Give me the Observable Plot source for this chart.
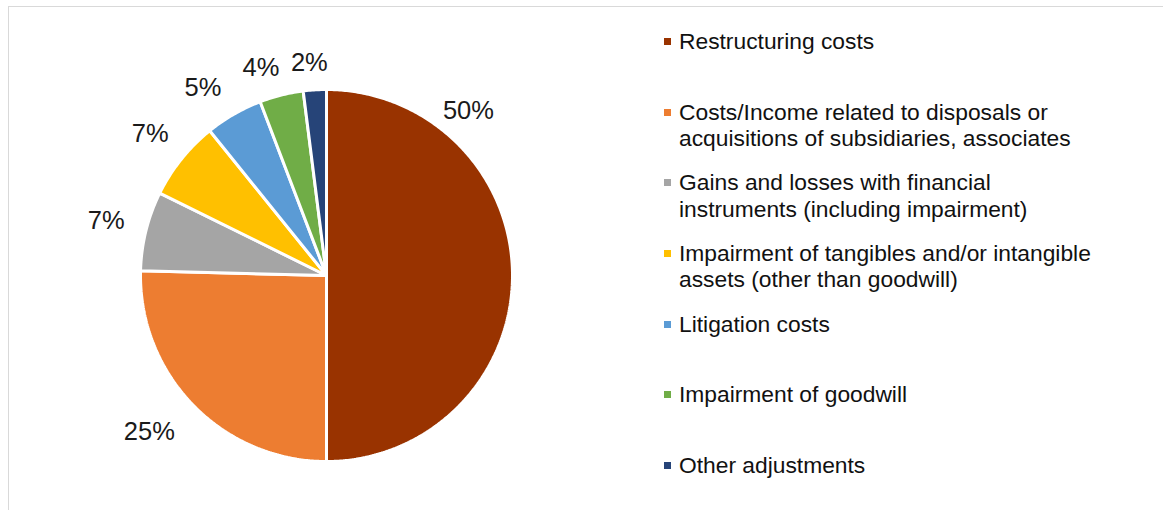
<!DOCTYPE html>
<html>
<head>
<meta charset="utf-8">
<script src="https://cdn.jsdelivr.net/npm/d3@7"></script>
<script src="https://cdn.jsdelivr.net/npm/@observablehq/plot@0.6"></script>
<style>
  html, body { margin: 0; padding: 0; background: #fff; }
  body { width: 1163px; height: 510px; overflow: hidden; position: relative;
         font-family: "Liberation Sans", Arial, sans-serif; }
  #frame { position: absolute; left: 8px; top: 6px; width: 1170px; height: 520px;
           border: 1px solid #d9d9d9; box-sizing: border-box; }
  #chart { position: absolute; left: 0; top: 0; }
  #legend { position: absolute; left: 0; top: 0; }
  .item { position: absolute; left: 664px; display: flex; align-items: flex-start; }
  .sw { width: 7px; height: 7px; margin-top: 10px; margin-right: 8px; flex: none; }
  .lab { font-size: 22.8px; line-height: 26.3px; color: #111; white-space: pre; }
</style>
</head>
<body>
<div id="frame"></div>
<div id="chart"></div>
<div id="legend"></div>
<script>
const categories = [
  "Restructuring costs",
  "Costs/Income related to disposals or\nacquisitions of subsidiaries, associates",
  "Gains and losses with financial\ninstruments (including impairment)",
  "Impairment of tangibles and/or intangible\nassets (other than goodwill)",
  "Litigation costs",
  "Impairment of goodwill",
  "Other adjustments"
];
const values = [50, 25.4, 6.9, 6.9, 5.0, 3.8, 2.0];
const colors = ["#993300", "#ED7D31", "#A5A5A5", "#FFC000", "#5B9BD5", "#70AD47", "#264478"];

// geometry of slices (angles measured clockwise from 12 o'clock)
const total = d3.sum(values);
let acc = 0;
const slices = values.map((v, i) => {
  const a0 = acc / total * 2 * Math.PI;
  acc += v;
  const a1 = acc / total * 2 * Math.PI;
  return {i, cat: categories[i], value: v, a0, a1};
});

const wedgePts = [];
for (const s of slices) {
  wedgePts.push({cat: s.cat, x: 0, y: 0});
  const n = Math.max(4, Math.ceil((s.a1 - s.a0) / 0.01));
  for (let k = 0; k <= n; k++) {
    const a = s.a0 + (s.a1 - s.a0) * k / n;
    wedgePts.push({cat: s.cat, x: Math.sin(a), y: Math.cos(a)});
  }
  wedgePts.push({cat: s.cat, x: 0, y: 0});
}

// label placement ("best fit"-like tweaks, degrees clockwise from 12 o'clock)
const deg = Math.PI / 180;
const labelAngle = {0: 40.7 * deg, 1: 228.6 * deg, 4: 326.7 * deg, 5: 342.5 * deg, 6: 355.4 * deg};
const labelRadius = {0: 1.17, 1: 1.27, 2: 1.22, 3: 1.215, 4: 1.21, 5: 1.172, 6: 1.149};
const labels = slices.map(s => {
  const a = labelAngle[s.i] ?? (s.a0 + s.a1) / 2;
  const r = labelRadius[s.i] ?? 1.19;
  return {x: r * Math.sin(a), y: r * Math.cos(a), text: Math.round(s.value / total * 100) + "%"};
});

const chart = Plot.plot({
  width: 1163,
  height: 510,
  marginLeft: 140,
  marginRight: 651,
  marginTop: 89,
  marginBottom: 49,
  x: {domain: [-1, 1], axis: null},
  y: {domain: [-1, 1], axis: null},
  color: {domain: categories, range: colors},
  style: {fontFamily: '"Liberation Sans", Arial, sans-serif', background: "transparent", overflow: "visible"},
  marks: [
    Plot.line(wedgePts, {x: "x", y: "y", z: "cat", fill: "cat", stroke: "white", strokeWidth: 3, strokeLinejoin: "miter", curve: "linear"}),
    Plot.text(labels, {x: "x", y: "y", text: "text", fontSize: 25.5, fill: "#1a1a1a"})
  ]
});
document.getElementById("chart").appendChild(chart);

const legend = document.getElementById("legend");
categories.forEach((c, i) => {
  const item = document.createElement("div");
  item.className = "item";
  item.style.top = (41 + i * 70.67 - 13) + "px";
  const sw = document.createElement("div");
  sw.className = "sw";
  sw.style.background = colors[i];
  const lab = document.createElement("div");
  lab.className = "lab";
  lab.textContent = c;
  item.appendChild(sw);
  item.appendChild(lab);
  legend.appendChild(item);
});
</script>
</body>
</html>
